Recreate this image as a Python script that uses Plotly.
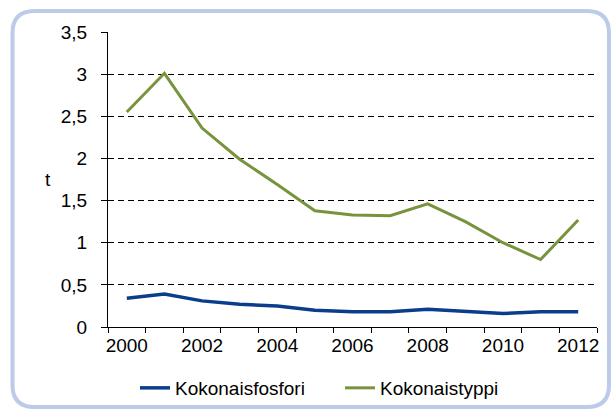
import plotly.graph_objects as go

years = [2000, 2001, 2002, 2003, 2004, 2005, 2006, 2007, 2008, 2009, 2010, 2011, 2012]
fosfori = [0.34, 0.39, 0.31, 0.27, 0.25, 0.20, 0.18, 0.18, 0.21, 0.19, 0.16, 0.18, 0.18]
typpi = [2.55, 3.01, 2.36, 1.99, 1.69, 1.38, 1.33, 1.32, 1.46, 1.25, 1.00, 0.80, 1.27]
x_labels = [2000, 2002, 2004, 2006, 2008, 2010, 2012]
y_ticks = [0, 0.5, 1, 1.5, 2, 2.5, 3, 3.5]

W, H = 611, 410
L, R, T, B = 108, 14, 32, 83
pw, ph = W - L - R, H - T - B

def px(x):
    return (x - L) / pw

def py(y):
    return (H - B - y) / ph

FONT = "Liberation Sans, Arial, sans-serif"
FS = 19

fig = go.Figure()
fig.add_trace(go.Scatter(x=years, y=fosfori, mode="lines", name="Kokonaisfosfori",
                         line=dict(color="#0a3e8c", width=3.5)))
fig.add_trace(go.Scatter(x=years, y=typpi, mode="lines", name="Kokonaistyppi",
                         line=dict(color="#77933c", width=3)))

# rounded border
x0, x1, y0, y1, r = 12.5, 609, 11, 407, 22
path = (f"M {px(x0+r)},{py(y0)} L {px(x1-r)},{py(y0)} Q {px(x1)},{py(y0)} {px(x1)},{py(y0+r)} "
        f"L {px(x1)},{py(y1-r)} Q {px(x1)},{py(y1)} {px(x1-r)},{py(y1)} "
        f"L {px(x0+r)},{py(y1)} Q {px(x0)},{py(y1)} {px(x0)},{py(y1-r)} "
        f"L {px(x0)},{py(y0+r)} Q {px(x0)},{py(y0)} {px(x0+r)},{py(y0)} Z")
fig.add_shape(type="path", path=path, xref="paper", yref="paper",
              line=dict(color="#bccbe8", width=4), layer="below")

fig.add_annotation(text="t", x=px(48), y=0.5, xref="paper", yref="paper",
                   xanchor="center", yanchor="middle",
                   showarrow=False, font=dict(family=FONT, size=FS, color="#000"))

fig.update_layout(
    width=W, height=H,
    margin=dict(l=L, r=R, t=T, b=B, autoexpand=False),
    paper_bgcolor="white", plot_bgcolor="white",
    separators=", ",
    font=dict(family=FONT, size=FS, color="#000"),
    showlegend=True,
    legend=dict(orientation="h", x=px(135), xanchor="left", y=py(388), yanchor="middle",
                font=dict(family=FONT, size=FS, color="#000"), entrywidth=160,
                bgcolor="rgba(0,0,0,0)"),
    xaxis=dict(range=[1999.5, 2012.5], tickmode="array", tickvals=x_labels,
               ticktext=[str(v) for v in x_labels], automargin=False,
               showline=True, linecolor="#000", linewidth=1,
               ticks="outside", ticklen=1, tickcolor="rgba(0,0,0,0)",
               showgrid=False, zeroline=False,
               minor=dict(tick0=1999.5, dtick=1, ticks="outside", ticklen=5,
                          tickcolor="#000", tickwidth=1, showgrid=False)),
    yaxis=dict(range=[0, 3.5], tickmode="array", tickvals=y_ticks, automargin=False,
               showline=True, linecolor="#000", linewidth=1,
               ticks="outside", ticklen=6, tickcolor="#000",
               showgrid=True, gridcolor="#000", gridwidth=1, griddash="6px,4px",
               zeroline=False, ticklabelstandoff=10),
)

fig.write_html("out.html", config={"displayModeBar": False})

with open("out.html", encoding="utf-8") as f:
    html = f.read()
html = html.replace("<head>", "<head><style>html,body{margin:0;padding:0;overflow:hidden;}</style>", 1)
with open("out.html", "w", encoding="utf-8") as f:
    f.write(html)
